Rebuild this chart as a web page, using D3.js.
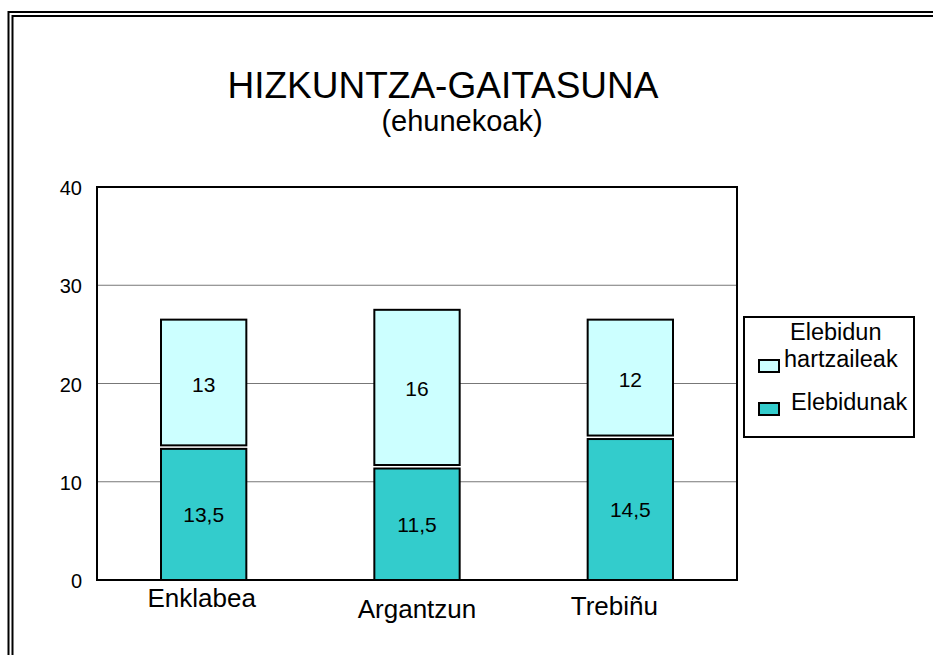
<!DOCTYPE html>
<html>
<head>
<meta charset="utf-8">
<script src="https://cdn.jsdelivr.net/npm/d3@7"></script>
<style>
  body { margin: 0; background: #fff; }
  svg text { font-family: "Liberation Sans", Arial, sans-serif; fill: #000; }
</style>
</head>
<body>
<svg id="chart" width="933" height="655"></svg>
<script>
// Data

const categories = ["Enklabea", "Argantzun", "Trebiñu"];
const elebidunak = [13.5, 11.5, 14.5];
const hartzaileak = [13, 16, 12];
const seriesNames = ["Elebidunak", "Elebidun hartzaileak"];
const yTicks = [0, 10, 20, 30, 40];

const colors = { Elebidunak: "#33CCCC", "Elebidun hartzaileak": "#CCFFFF" };

// Layout

const p = {
    left: 97, right: 737, top: 187, bottom: 580
};

// the category labels sit a little out of line in the original
const labelNudge = [[-2, 607], [0, 618], [-16, 615]];

const svg = d3.select("#chart");

// double frame round the whole page (right and bottom edges fall outside)
[[8.5, 12], [12.5, 16]].forEach(([x, y]) => {
    svg.append("rect")
        .attr("x", x).attr("y", y)
        .attr("width", 2000).attr("height", 2000)
        .attr("fill", "none")
        .attr("stroke", "#000")
        .attr("stroke-width", 2);
});

// Titles

svg.append("text")
    .attr("x", 443).attr("y", 98)
    .attr("text-anchor", "middle")
    .style("font-size", "37px")
    .text("HIZKUNTZA-GAITASUNA");

svg.append("text")
    .attr("x", 462).attr("y", 131)
    .attr("text-anchor", "middle")
    .style("font-size", "29px")
    .text("(ehunekoak)");

// Scales

const x = d3.scaleBand()
    .domain(categories)
    .range([p.left, p.right])
    .paddingInner(0.6)
    .paddingOuter(0.3);

const y = d3.scaleLinear()
    .domain([0, 40])
    .range([p.bottom, p.top]);

const fmt = v => String(v).replace(".", ",");

// Grid

svg.append("g")
    .selectAll("line")
    .data(yTicks.filter(t => t > 0 && t < 40))
    .join("line")
    .attr("x1", p.left).attr("x2", p.right)
    .attr("y1", d => y(d)).attr("y2", d => y(d))
    .attr("stroke", "#777")
    .attr("stroke-width", 1.2);

// Y tick labels

svg.append("g")
    .selectAll("text")
    .data(yTicks)
    .join("text")
    .attr("x", 82)
    .attr("y", d => y(d) + 8)
    .attr("text-anchor", "end")
    .style("font-size", "20px")
    .text(d => d);

// Bars

const table = categories.map((c, i) => ({
    cat: c,
    "Elebidunak": elebidunak[i],
    "Elebidun hartzaileak": hartzaileak[i]
}));

const stacked = d3.stack().keys(seriesNames)(table);

stacked.forEach((layer, li) => {
    const g = svg.append("g");

    g.selectAll("rect")
        .data(layer)
        .join("rect")
        .attr("x", d => x(d.data.cat))
        .attr("width", x.bandwidth())
        .attr("y", d => y(d[1]) + (li === 0 ? 1.5 : 0))
        .attr("height", d => y(d[0]) - y(d[1]) - (li === 0 ? 1.5 : 2))
        .attr("fill", colors[layer.key])
        .attr("stroke", "#000")
        .attr("stroke-width", 2);

    g.selectAll("text")
        .data(layer)
        .join("text")
        .attr("x", d => x(d.data.cat) + x.bandwidth() / 2)
        .attr("y", d => (y(d[0]) + y(d[1])) / 2 + 8)
        .attr("text-anchor", "middle")
        .style("font-size", "21px")
        .text(d => fmt(d[1] - d[0]));
});

// Plot frame

svg.append("rect")
    .attr("x", p.left).attr("y", p.top)
    .attr("width", p.right - p.left)
    .attr("height", p.bottom - p.top)
    .attr("fill", "none")
    .attr("stroke", "#000")
    .attr("stroke-width", 2);

// Category labels

svg.append("g")
    .selectAll("text")
    .data(categories)
    .join("text")
    .attr("x", (d, i) => x(d) + x.bandwidth() / 2 + labelNudge[i][0])
    .attr("y", (d, i) => labelNudge[i][1])
    .attr("text-anchor", "middle")
    .style("font-size", "26px")
    .text(d => d);

// Legend

const legend = svg.append("g");

legend.append("rect")
    .attr("x", 744).attr("y", 317)
    .attr("width", 170).attr("height", 120)
    .attr("fill", "#fff")
    .attr("stroke", "#000")
    .attr("stroke-width", 2);

const legendItems = seriesNames.slice().reverse();
const legendRows = [366, 409];

legendItems.forEach((name, i) => {
    legend.append("rect")
        .attr("x", 759).attr("y", legendRows[i] - 6)
        .attr("width", 20).attr("height", 12)
        .attr("fill", colors[name])
        .attr("stroke", "#000")
        .attr("stroke-width", 2);

    const words = name.split(" ");
    const t = legend.append("text")
        .style("font-size", "23.5px");
    if (words.length > 1) {
        t.append("tspan").attr("x", 790).attr("y", legendRows[i] - 26).text(words[0]);
        t.append("tspan").attr("x", 784).attr("y", legendRows[i] + 1).text(words[1]);
    } else {
        t.attr("x", 791).attr("y", legendRows[i] + 1).text(name);
    }
});
</script>
</body>
</html>
